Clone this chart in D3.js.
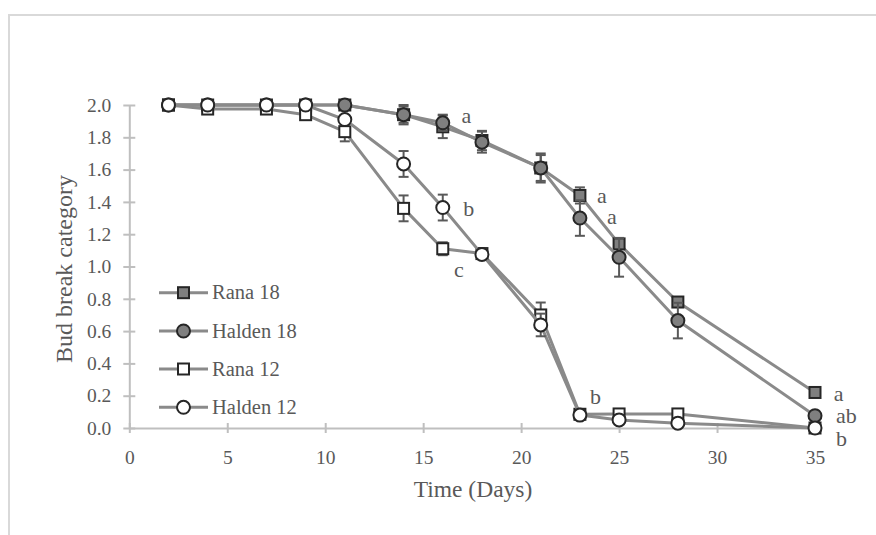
<!DOCTYPE html>
<html>
<head>
<meta charset="utf-8">
<script src="https://cdn.jsdelivr.net/npm/d3@7"></script>
<style>
html,body{margin:0;padding:0;background:#fff;}
svg{display:block;}
text{font-family:"Liberation Serif","Times New Roman",serif;fill:#595959;}
</style>
</head>
<body>
<svg id="chart" width="876" height="535"></svg>
<script>
// ---- data ----
const days = [2, 4, 7, 9, 11, 14, 16, 18, 21, 23, 25, 28, 35];
const seriesNames = ["Rana 18", "Halden 18", "Rana 12", "Halden 12"];
const rana18   = [2.0, 2.0, 2.0, 2.0, 2.0, 1.94, 1.865, 1.78, 1.61, 1.44, 1.14, 0.78, 0.22];
const halden18 = [2.0, 2.0, 2.0, 2.0, 2.0, 1.94, 1.89, 1.77, 1.61, 1.30, 1.057, 0.665, 0.076];
const rana12   = [2.0, 1.975, 1.975, 1.94, 1.835, 1.36, 1.11, 1.08, 0.70, 0.085, 0.087, 0.087, 0.0];
const halden12 = [2.0, 2.0, 2.0, 2.0, 1.91, 1.635, 1.365, 1.075, 0.638, 0.08, 0.05, 0.03, 0.0];
const rana18Err   = [0, 0, 0, 0, 0, 0.05, 0.07, 0.06, 0.09, 0.05, 0.03, 0.02, 0.02];
const halden18Err = [0, 0, 0, 0, 0.02, 0.06, 0.05, 0.065, 0.08, 0.11, 0.12, 0.11, 0.03];
const rana12Err   = [0, 0.02, 0.02, 0.02, 0.06, 0.08, 0.04, 0.03, 0.077, 0.03, 0.03, 0.03, 0];
const halden12Err = [0, 0, 0, 0, 0.02, 0.08, 0.08, 0.03, 0.07, 0.02, 0.02, 0.02, 0];
const xTicks = [0, 5, 10, 15, 20, 25, 30, 35];
const yTicks = [0, 0.2, 0.4, 0.6, 0.8, 1.0, 1.2, 1.4, 1.6, 1.8, 2.0];
// significance letters: [day, value, label]
const letters = [
  [17.21, 1.932, "a"], [17.33, 1.356, "b"], [16.82, 0.978, "c"],
  [24.12, 1.438, "a"], [24.63, 1.305, "a"], [23.8, 0.194, "b"],
  [36.2, 0.21, "a"], [36.6, 0.076, "ab"], [36.35, -0.07, "b"]
];

const series = [
  {name: seriesNames[0], vals: rana18, err: rana18Err, shape: "square", fill: "#7f7f7f"},
  {name: seriesNames[1], vals: halden18, err: halden18Err, shape: "circle", fill: "#7f7f7f"},
  {name: seriesNames[2], vals: rana12, err: rana12Err, shape: "square", fill: "#ffffff"},
  {name: seriesNames[3], vals: halden12, err: halden12Err, shape: "circle", fill: "#ffffff"}
];

const serif = '"Liberation Serif","Times New Roman",serif';
const svg = d3.select("#chart");
const x = d3.scaleLinear().domain([0, 35]).range([129.3, 815]);
const y = d3.scaleLinear().domain([0, 2]).range([428, 105]);

// frame
svg.append("path").attr("d", "M9,540 L9,15 L880,15")
  .attr("fill", "none").attr("stroke", "#d9d9d9").attr("stroke-width", 2);

// axes
const axisColor = "#bfbfbf";
const yAxis = svg.append("g").attr("transform", `translate(${x(0)},0)`)
  .call(d3.axisLeft(y).tickValues(yTicks).tickFormat(d3.format(".1f")).tickSizeInner(6).tickSizeOuter(0).tickPadding(12));
yAxis.attr("font-family", serif);
yAxis.selectAll(".tick line").attr("x2", 6).attr("x1", -6).attr("stroke", axisColor).attr("stroke-width", 2);
yAxis.select(".domain").attr("stroke", axisColor).attr("stroke-width", 2);
yAxis.selectAll("text").attr("font-size", 19.5).attr("fill", "#595959").style("font-family", serif);

const xAxis = svg.append("g").attr("transform", `translate(0,${y(0)})`)
  .call(d3.axisBottom(x).tickValues(xTicks).tickSizeInner(5).tickSizeOuter(0).tickPadding(17));
xAxis.attr("font-family", serif);
xAxis.selectAll(".tick line").attr("y1", -5).attr("y2", 5).attr("stroke", axisColor).attr("stroke-width", 2);
xAxis.select(".domain").attr("stroke", axisColor).attr("stroke-width", 2);
xAxis.selectAll("text").attr("font-size", 19.5).attr("fill", "#595959").style("font-family", serif);

// axis titles
svg.append("text").attr("x", 473).attr("y", 497).attr("text-anchor", "middle")
  .attr("font-size", 23.5).style("font-family", serif).text("Time (Days)");
svg.append("text").attr("transform", "translate(72,269) rotate(-90)").attr("text-anchor", "middle")
  .attr("font-size", 24).style("font-family", serif).text("Bud break category");

const lineColor = "#8a8a8a";
const markerStroke = "#262626";
const line = d3.line().x((d, i) => x(days[i])).y(d => y(d));

function drawMarker(g, shape, cx, cy, fill) {
  if (shape === "square") {
    g.append("rect").attr("x", cx - 5.5).attr("y", cy - 5.5).attr("width", 11).attr("height", 11)
      .attr("fill", fill).attr("stroke", markerStroke).attr("stroke-width", 2);
  } else {
    g.append("circle").attr("cx", cx).attr("cy", cy).attr("r", 6.5)
      .attr("fill", fill).attr("stroke", markerStroke).attr("stroke-width", 2);
  }
}

series.forEach(s => {
  const g = svg.append("g");
  g.append("path").attr("d", line(s.vals)).attr("fill", "none")
    .attr("stroke", lineColor).attr("stroke-width", 3).attr("stroke-linejoin", "round");
  s.vals.forEach((v, i) => {
    const e = s.err[i];
    if (e > 0) {
      const cx = x(days[i]);
      const eg = g.append("g").attr("stroke", "#595959").attr("stroke-width", 2);
      eg.append("line").attr("x1", cx).attr("x2", cx).attr("y1", y(v - e)).attr("y2", y(v + e));
      eg.append("line").attr("x1", cx - 5).attr("x2", cx + 5).attr("y1", y(v - e)).attr("y2", y(v - e));
      eg.append("line").attr("x1", cx - 5).attr("x2", cx + 5).attr("y1", y(v + e)).attr("y2", y(v + e));
    }
  });
  s.vals.forEach((v, i) => drawMarker(g, s.shape, x(days[i]), y(v), s.fill));
});

// letters
letters.forEach(l => {
  svg.append("text").attr("x", x(l[0])).attr("y", y(l[1])).attr("dy", "0.32em")
    .attr("text-anchor", "middle").attr("font-size", 22).style("font-family", serif).text(l[2]);
});

// legend
const legY = [292.7, 331, 369, 407.3];
series.forEach((s, i) => {
  const g = svg.append("g");
  g.append("line").attr("x1", 159).attr("x2", 208).attr("y1", legY[i]).attr("y2", legY[i])
    .attr("stroke", lineColor).attr("stroke-width", 3);
  drawMarker(g, s.shape, 183.5, legY[i], s.fill);
  g.append("text").attr("x", 212).attr("y", legY[i]).attr("dy", "0.33em")
    .attr("font-size", 20.5).style("font-family", serif).text(s.name);
});
</script>
</body>
</html>
